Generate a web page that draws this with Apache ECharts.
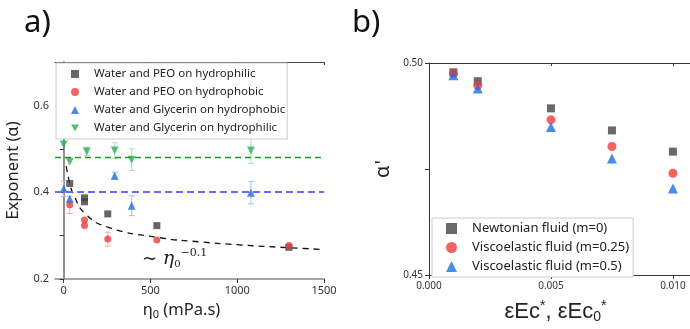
<!DOCTYPE html>
<html>
<head>
<meta charset="utf-8">
<script src="https://cdn.jsdelivr.net/npm/echarts@6/dist/echarts.min.js"></script>
<style>
  html, body { margin: 0; padding: 0; background: #fff; }
  #chart { width: 690px; height: 329px; }
</style>
</head>
<body>
<div id="chart"></div>
<script>
// panel a) exponent vs zero-shear viscosity
const peoPhilic = [[35, 0.42], [120, 0.387], [120, 0.378], [254, 0.35], [537, 0.323], [1298, 0.273]]
const peoPhobic = [[35, 0.371], [120, 0.336], [120, 0.323], [254, 0.292], [537, 0.29], [1298, 0.277]]
const glyPhobic = [[0, 0.408], [35, 0.385], [294, 0.438], [392, 0.369], [1079, 0.399]]
const glyPhilic = [[0, 0.51], [35, 0.47], [133, 0.494], [294, 0.496], [392, 0.475], [1079, 0.496]]
// [x, y, error]
const peoPhobicErr = [[35, 0.371, 0.02], [254, 0.292, 0.016]]
const glyPhobicErr = [[0, 0.408, 0.018], [294, 0.438, 0.008], [392, 0.369, 0.023], [1079, 0.399, 0.026]]
const glyPhilicErr = [[133, 0.494, 0.01], [294, 0.496, 0.018], [392, 0.475, 0.025], [1079, 0.496, 0.03]]
const fitCurve = [[15, 0.46], [35, 0.42], [60, 0.392], [120, 0.352], [250, 0.32], [540, 0.296], [800, 0.285], [1000, 0.279], [1300, 0.272], [1500, 0.268]]
const glyPhilicMean = 0.478
const glyPhobicMean = 0.4

// panel b) alpha' vs eps*Ec
const ecValues = [0.001, 0.002, 0.005, 0.0075, 0.01]
const newtonian = [0.4978, 0.4957, 0.4893, 0.4841, 0.4791]
const visco025 = [0.4975, 0.4947, 0.4866, 0.4803, 0.474]
const visco05 = [0.4971, 0.494, 0.4849, 0.4775, 0.4704]

const xTicksA = [0, 500, 1000, 1500]
const yTicksA = [0.2, 0.4, 0.6]
const xTicksB = [0, 0.005, 0.01]
const yTicksB = [0.45, 0.5]

const FONT = 'Noto Sans'
const DOWN_TRIANGLE = 'path://M0,0L2,0L1,1.732Z'
const chart = echarts.init(document.getElementById('chart'))

function pair (xs, ys) {
  return xs.map((x, i) => [x, ys[i]])
}

function errorBars (data, color) {
  return {
    type: 'custom',
    xAxisIndex: 0,
    yAxisIndex: 0,
    z: 1,
    silent: true,
    data: data,
    renderItem: function (params, api) {
      const x = api.value(0)
      const y = api.value(1)
      const e = api.value(2)
      const top = api.coord([x, y + e])
      const bot = api.coord([x, y - e])
      const style = { stroke: color, lineWidth: 1 }
      return {
        type: 'group',
        children: [
          { type: 'line', shape: { x1: top[0], y1: top[1], x2: bot[0], y2: bot[1] }, style: style },
          { type: 'line', shape: { x1: top[0] - 3, y1: top[1], x2: top[0] + 3, y2: top[1] }, style: style },
          { type: 'line', shape: { x1: bot[0] - 3, y1: bot[1], x2: bot[0] + 3, y2: bot[1] }, style: style }
        ]
      }
    }
  }
}

const tickLabel = { fontFamily: FONT, fontSize: 11, color: '#333' }

const option = {
  animation: false,
  backgroundColor: '#fff',
  grid: [
    { left: 55, top: 62, width: 269, height: 217 },
    { left: 429, top: 63, width: 261, height: 216 }
  ],
  xAxis: [
    {
      gridIndex: 0, type: 'value', min: -50, max: 1500,
      name: '{e|η}{s|0} (mPa.s)', nameLocation: 'middle', nameGap: 22,
      nameTextStyle: {
        fontFamily: FONT, fontSize: 16.5, color: '#222', padding: [0, 16, 0, 0],
        rich: {
          e: { fontFamily: FONT, fontSize: 16.5, color: '#222' },
          s: { fontFamily: FONT, fontSize: 11, color: '#222', padding: [8, 0, 0, 0] }
        }
      },
      splitLine: { show: false },
      axisLine: { lineStyle: { color: '#888', width: 1.5 } },
      axisTick: { customValues: xTicksA, length: 4, lineStyle: { color: '#333' } },
      axisLabel: { customValues: xTicksA, margin: 6, formatter: v => String(v), ...tickLabel }
    },
    {
      gridIndex: 0, type: 'value', min: -50, max: 1500, position: 'top',
      splitLine: { show: false },
      axisLine: { lineStyle: { color: '#444', width: 1 } },
      axisTick: { customValues: xTicksA, inside: true, length: 3, lineStyle: { color: '#333' } },
      axisLabel: { show: false }
    },
    {
      gridIndex: 1, type: 'value', min: 0, max: 0.0107,
      name: 'εEc{p|*}, εEc{s|0}{p|*}', nameLocation: 'middle', nameGap: 24,
      nameTextStyle: {
        fontFamily: 'Liberation Sans', fontSize: 22, color: '#222', padding: [0, 8, 0, 0],
        rich: {
          p: { fontFamily: 'Liberation Sans', fontSize: 14, color: '#222', padding: [0, 0, 12, 0] },
          s: { fontFamily: 'Liberation Sans', fontSize: 14, color: '#222', padding: [10, 0, 0, 0] }
        }
      },
      splitLine: { show: false },
      axisLine: { lineStyle: { color: '#333', width: 1 } },
      axisTick: { customValues: xTicksB, length: 4, lineStyle: { color: '#333' } },
      axisLabel: { customValues: xTicksB, margin: 6, formatter: v => v.toFixed(3), ...tickLabel, fontSize: 10 }
    },
    {
      gridIndex: 1, type: 'value', min: 0, max: 0.0107, position: 'top',
      splitLine: { show: false },
      axisLine: { lineStyle: { color: '#333', width: 1 } },
      axisTick: { customValues: [0.005, 0.01], inside: true, length: 3, lineStyle: { color: '#333' } },
      axisLabel: { show: false }
    }
  ],
  yAxis: [
    {
      gridIndex: 0, type: 'value', min: 0.2, max: 0.7, interval: 0.1,
      name: 'Exponent (α)', nameLocation: 'middle', nameGap: 33, nameRotate: 90,
      nameTextStyle: { fontFamily: FONT, fontSize: 16.5, color: '#222' },
      splitLine: { show: false },
      axisLine: { lineStyle: { color: '#888', width: 1.5 } },
      axisTick: { length: 4, lineStyle: { color: '#333' } },
      axisLabel: { customValues: yTicksA, margin: 6, formatter: v => v.toFixed(1), ...tickLabel }
    },
    {
      gridIndex: 0, type: 'value', min: 0.2, max: 0.7, interval: 0.1, position: 'right',
      splitLine: { show: false },
      axisLine: { lineStyle: { color: '#888', width: 1.5 } },
      axisTick: { inside: true, length: 3, lineStyle: { color: '#333' } },
      axisLabel: { show: false }
    },
    {
      gridIndex: 1, type: 'value', min: 0.45, max: 0.5,
      name: "α'", nameLocation: 'middle', nameGap: 36, nameRotate: 90,
      nameTextStyle: { fontFamily: FONT, fontSize: 20, color: '#222' },
      splitLine: { show: false },
      axisLine: { lineStyle: { color: '#333', width: 1 } },
      axisTick: { customValues: [0.45, 0.475, 0.5], length: 4, lineStyle: { color: '#333' } },
      axisLabel: { customValues: yTicksB, margin: 6, formatter: v => v.toFixed(2), ...tickLabel, fontSize: 10 }
    }
  ],
  legend: [
    {
      left: 56, top: 63, orient: 'vertical',
      itemWidth: 8, itemHeight: 8, itemGap: 4,
      padding: [4, 2, 4, 15],
      borderColor: '#ccc', borderWidth: 1, backgroundColor: '#fff',
      textStyle: { fontFamily: FONT, fontSize: 11.5, color: '#222', lineHeight: 14, padding: [0, 0, 0, 10] },
      data: ['Water and PEO on hydrophilic', 'Water and PEO on hydrophobic',
        'Water and Glycerin on hydrophobic',
        { name: 'Water and Glycerin on hydrophilic', icon: DOWN_TRIANGLE }]
    },
    {
      left: 432, top: 218, orient: 'vertical',
      itemWidth: 11, itemHeight: 11, itemGap: 4,
      padding: [3, 4, 3, 14],
      borderColor: '#ccc', borderWidth: 1, backgroundColor: '#fff',
      textStyle: { fontFamily: FONT, fontSize: 13, color: '#222', lineHeight: 15, padding: [0, 0, 0, 10] },
      data: ['Newtonian fluid (m=0)', 'Viscoelastic fluid (m=0.25)', 'Viscoelastic fluid (m=0.5)']
    }
  ],
  graphic: [
    { type: 'text', left: 24, top: 8, style: { text: 'a)', fontFamily: FONT, fontSize: 31, fill: '#111' } },
    { type: 'text', left: 352, top: 8, style: { text: 'b)', fontFamily: FONT, fontSize: 31, fill: '#111' } },
    {
      type: 'text', left: 142, top: 248,
      style: {
        text: '{t|~ }{e|η}{s|0}{p|−0.1}',
        rich: {
          t: { fontFamily: 'DejaVu Serif', fontSize: 18, fill: '#222' },
          e: { fontFamily: 'DejaVu Serif', fontStyle: 'italic', fontSize: 19, fill: '#222' },
          s: { fontFamily: 'DejaVu Serif', fontSize: 10, fill: '#222', padding: [10, 0, 0, 0] },
          p: { fontFamily: 'DejaVu Serif', fontSize: 11, fill: '#222', padding: [0, 0, 12, 0] }
        }
      }
    }
  ],
  series: [
    {
      type: 'line', xAxisIndex: 0, yAxisIndex: 0, data: fitCurve,
      smooth: true, symbol: 'none', silent: true, z: 2,
      lineStyle: { color: '#111', width: 1.3, type: [6, 5] },
      markLine: {
        silent: true, symbol: 'none', label: { show: false },
        data: [
          { yAxis: glyPhilicMean, lineStyle: { color: '#1a9a1a', width: 1.3, type: [6, 4] } },
          { yAxis: glyPhobicMean, lineStyle: { color: '#6a6af5', width: 2, type: [7, 4] } }
        ]
      }
    },
    errorBars(peoPhobicErr, '#f5a5a5'),
    errorBars(glyPhobicErr, '#9cc0f0'),
    errorBars(glyPhilicErr, '#a8dcb8'),
    {
      name: 'Water and PEO on hydrophilic', type: 'scatter', xAxisIndex: 0, yAxisIndex: 0,
      data: peoPhilic, symbol: 'rect', symbolSize: 7, z: 3, itemStyle: { color: '#404040' }
    },
    {
      name: 'Water and PEO on hydrophobic', type: 'scatter', xAxisIndex: 0, yAxisIndex: 0,
      data: peoPhobic, symbol: 'circle', symbolSize: 7, z: 3, itemStyle: { color: '#f03c3c' }
    },
    {
      name: 'Water and Glycerin on hydrophobic', type: 'scatter', xAxisIndex: 0, yAxisIndex: 0,
      data: glyPhobic, symbol: 'triangle', symbolSize: 8, z: 3, itemStyle: { color: '#1f6fd9' }
    },
    {
      name: 'Water and Glycerin on hydrophilic', type: 'scatter', xAxisIndex: 0, yAxisIndex: 0,
      data: glyPhilic, symbol: 'triangle', symbolRotate: 180, symbolSize: 8, z: 3, itemStyle: { color: '#2fae55' }
    },
    {
      name: 'Newtonian fluid (m=0)', type: 'scatter', xAxisIndex: 2, yAxisIndex: 2,
      data: pair(ecValues, newtonian), symbol: 'rect', symbolSize: 8, itemStyle: { color: '#444' }
    },
    {
      name: 'Viscoelastic fluid (m=0.25)', type: 'scatter', xAxisIndex: 2, yAxisIndex: 2,
      data: pair(ecValues, visco025), symbol: 'circle', symbolSize: 9, itemStyle: { color: '#f23b3b' }
    },
    {
      name: 'Viscoelastic fluid (m=0.5)', type: 'scatter', xAxisIndex: 2, yAxisIndex: 2,
      data: pair(ecValues, visco05), symbol: 'triangle', symbolSize: 10, itemStyle: { color: '#1a6fe0' }
    }
  ]
}

chart.setOption(option)
</script>
</body>
</html>
